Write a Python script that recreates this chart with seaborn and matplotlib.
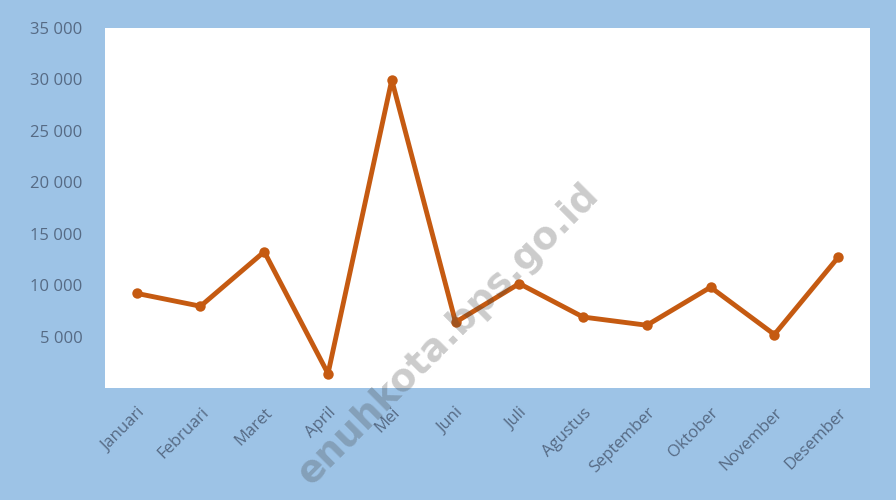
import numpy as np
import pandas as pd
import seaborn as sns
import matplotlib.pyplot as plt
from matplotlib.ticker import FuncFormatter

bulan = ["Januari", "Februari", "Maret", "April", "Mei", "Juni", "Juli",
         "Agustus", "September", "Oktober", "November", "Desember"]
nilai = [9200, 7950, 13250, 1400, 29950, 6400, 10150, 6900, 6100, 9800, 5200, 12700]
y_ticks = [0, 5000, 10000, 15000, 20000, 25000, 30000, 35000]

df = pd.DataFrame({"bulan": bulan, "nilai": nilai})

sns.set_style("white")
plt.rcParams['font.family'] = ['Open Sans', 'DejaVu Sans']

bg = "#9dc3e6"
txt = "#566a84"
garis = "#c55a11"

fig = plt.figure(figsize=(8.96, 5), dpi=100, facecolor=bg)
ax = fig.add_axes([0.117, 0.224, 0.854, 0.720])
ax.set_facecolor("white")

sns.lineplot(data=df, x="bulan", y="nilai", sort=False, ax=ax, color=garis,
             linewidth=3.5, marker="o", markersize=7.5, markeredgewidth=0)

ax.set_xlim(-0.5, len(bulan) - 0.5)
ax.set_ylim(0, 35000)
ax.set_yticks(y_ticks)
ax.yaxis.set_major_formatter(FuncFormatter(
    lambda v, p: "" if v == 0 else f"{int(v):,}".replace(",", " ")))
ax.set_xlabel("")
ax.set_ylabel("")
for s in ax.spines.values():
    s.set_visible(False)
ax.tick_params(axis="both", length=0, colors=txt)
ax.tick_params(axis="y", pad=16, labelsize=12)
ax.tick_params(axis="x", pad=12, labelsize=12)
plt.setp(ax.get_xticklabels(), rotation=45, ha="right", rotation_mode="anchor")

# watermark (only the visible part of the source watermark)
fig.text(0.500, 0.332, "enuhkota.bps.go.id", rotation=45, fontsize=27,
         fontweight="bold", color="#404040", alpha=0.27, ha="center", va="center",
         rotation_mode="anchor", family=["DejaVu Sans"])

fig.savefig("out.png", dpi=100, facecolor=bg)
